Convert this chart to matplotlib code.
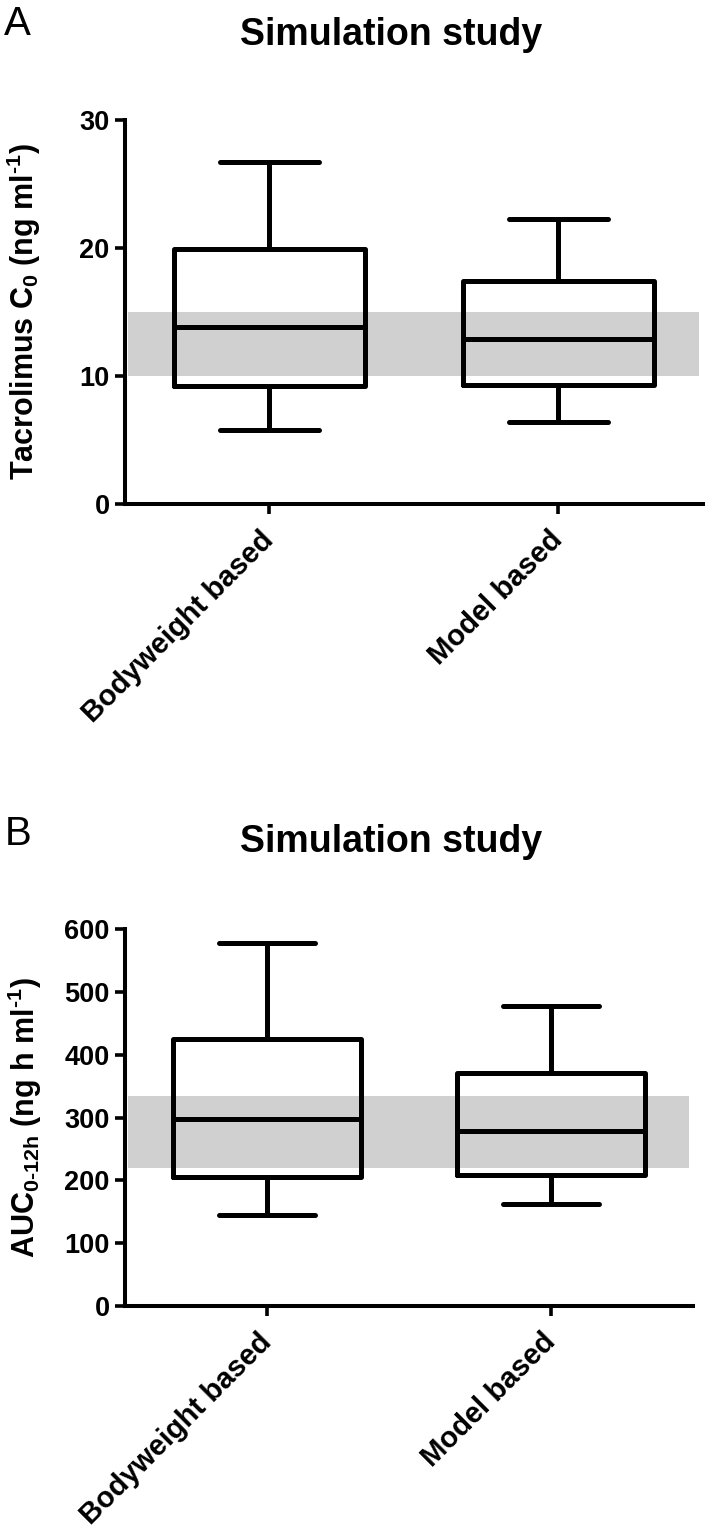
import matplotlib
matplotlib.use("Agg")
import matplotlib.pyplot as plt

plt.rcParams["font.family"] = ["Liberation Sans", "DejaVu Sans"]
plt.rcParams["font.weight"] = "bold"
plt.rcParams["mathtext.fontset"] = "custom"
plt.rcParams["mathtext.rm"] = "Liberation Sans:bold"
plt.rcParams["mathtext.it"] = "Liberation Sans:bold"
plt.rcParams["mathtext.bf"] = "Liberation Sans:bold"
plt.rcParams["mathtext.default"] = "rm"

groups = ["Bodyweight based", "Model based"]

# panel A: tacrolimus trough concentration (ng/ml)
c0_whislo = [5.8, 6.4]
c0_q1 = [9.2, 9.3]
c0_med = [13.85, 12.9]
c0_q3 = [19.9, 17.4]
c0_whishi = [26.7, 22.3]
c0_target = (10, 15)
c0_ticks = [0, 10, 20, 30]

# panel B: AUC 0-12h (ng h/ml)
auc_whislo = [145, 162]
auc_q1 = [206, 209]
auc_med = [298, 278]
auc_q3 = [426, 371]
auc_whishi = [578, 478]
auc_target = (220, 335)
auc_ticks = [0, 100, 200, 300, 400, 500, 600]


def make_stats(lo, q1, med, q3, hi):
    return [
        {"whislo": a, "q1": b, "med": c, "q3": d, "whishi": e, "fliers": []}
        for a, b, c, d, e in zip(lo, q1, med, q3, hi)
    ]


def draw_panel(ax, stats, target, ticks, ylabel):
    line = dict(color="black", linewidth=3.6, solid_capstyle="round",
                solid_joinstyle="round")
    ax.axhspan(target[0], target[1], xmin=0.005, xmax=0.993,
               color="#d0d0d0", lw=0, zorder=0)
    ax.bxp(stats, positions=[1, 2], widths=0.66, showfliers=False,
           boxprops=line, whiskerprops=line, capprops=line, medianprops=line,
           capwidths=0.34)
    ax.set_xlim(0.5, 2.5)
    ax.set_ylim(ticks[0], ticks[-1])
    ax.set_yticks(ticks)
    ax.set_xticks([1, 2])
    ax.set_xticklabels(groups, rotation=45, ha="right", va="center",
                       rotation_mode="anchor", fontsize=21, fontweight="bold")
    for lab in ax.get_yticklabels():
        lab.set_fontsize(19.5)
        lab.set_fontweight("bold")
    ax.tick_params(axis="y", length=7, width=2.6, pad=4)
    ax.tick_params(axis="x", length=7, width=2.6, pad=16)
    for side in ["top", "right"]:
        ax.spines[side].set_visible(False)
    for side in ["left", "bottom"]:
        ax.spines[side].set_linewidth(2.9)
    ax.set_ylabel(ylabel, fontsize=22, fontweight="bold")
    ax.yaxis.set_label_coords(-0.142, 0.5)


def main():
    fig = plt.figure(figsize=(7.09, 15.27), dpi=100)
    ax_a = fig.add_axes([0.1763, 0.66994, 0.81523, 0.25147])
    ax_b = fig.add_axes([0.1763, 0.14473, 0.80113, 0.24669])

    draw_panel(ax_a, make_stats(c0_whislo, c0_q1, c0_med, c0_q3, c0_whishi),
               c0_target, c0_ticks,
               r"Tacrolimus C$_{0}$ (ng ml$^{\text{-}1}$)")
    draw_panel(ax_b, make_stats(auc_whislo, auc_q1, auc_med, auc_q3, auc_whishi),
               auc_target, auc_ticks,
               r"AUC$_{0\text{-}12h}$ (ng h ml$^{\text{-}1}$)")

    fig.text(0.006, 1 - 35 / 1527, "A", fontsize=29, fontweight="normal")
    fig.text(0.552, 1 - 45 / 1527, "Simulation study", fontsize=27,
             fontweight="bold", ha="center")
    fig.text(0.006, 1 - 845 / 1527, "B", fontsize=29, fontweight="normal")
    fig.text(0.552, 1 - 852 / 1527, "Simulation study", fontsize=27,
             fontweight="bold", ha="center")

    fig.savefig("out.png", dpi=100)


if __name__ == "__main__":
    main()
